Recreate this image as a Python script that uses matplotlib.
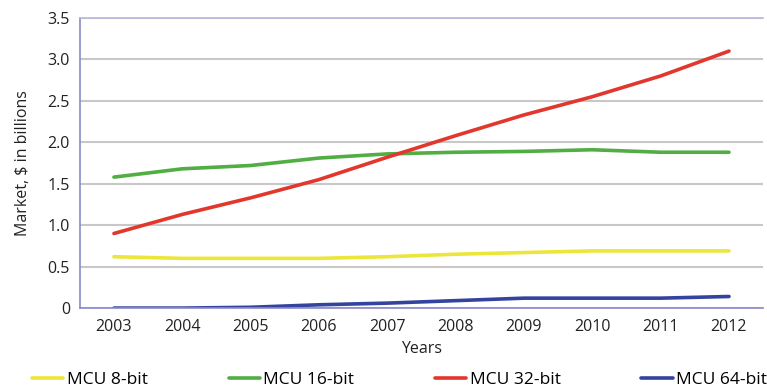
import matplotlib.pyplot as plt

plt.rcParams['font.family'] = ['Open Sans', 'DejaVu Sans']

years = [2003, 2004, 2005, 2006, 2007, 2008, 2009, 2010, 2011, 2012]
mcu8 = [0.62, 0.60, 0.60, 0.60, 0.62, 0.65, 0.67, 0.69, 0.69, 0.69]
mcu16 = [1.58, 1.68, 1.72, 1.81, 1.86, 1.88, 1.89, 1.91, 1.88, 1.88]
mcu32 = [0.90, 1.13, 1.33, 1.55, 1.82, 2.08, 2.33, 2.55, 2.80, 3.10]
mcu64 = [0.00, 0.00, 0.01, 0.04, 0.06, 0.09, 0.12, 0.12, 0.12, 0.14]

labels = ['MCU 8-bit', 'MCU 16-bit', 'MCU 32-bit', 'MCU 64-bit']
colors = ['#ede63a', '#52ad45', '#e2372c', '#34449e']
yticks = [0, 0.5, 1.0, 1.5, 2.0, 2.5, 3.0, 3.5]
ytick_labels = ['0', '0.5', '1.0', '1.5', '2.0', '2.5', '3.0', '3.5']

fig = plt.figure(figsize=(7.67, 3.9), dpi=100)
ax = fig.add_axes([0.104, 0.21, 0.891, 0.744])

for vals, lab, c in zip([mcu8, mcu16, mcu32, mcu64], labels, colors):
    ax.plot(years, vals, color=c, lw=2.6, label=lab, solid_capstyle='round')

ax.set_xlim(2002.5, 2012.5)
ax.set_ylim(0, 3.5)
ax.set_xticks(years)
ax.set_yticks(yticks)
ax.set_yticklabels(ytick_labels)
ax.tick_params(length=0, labelsize=11.5, colors='#222222', pad=7)
ax.tick_params(axis='x', pad=8)
ax.grid(axis='y', color='#c8c8c8', lw=1.5)
ax.set_axisbelow(True)
for s in ['left', 'bottom', 'top']:
    ax.spines[s].set_color('#8a8ac8')
    ax.spines[s].set_linewidth(1.2)
ax.spines['top'].set_color('#b8b8e0')
ax.spines['right'].set_visible(False)

ax.set_xlabel('Years', fontsize=11.5, color='#222222', labelpad=4)
ax.set_ylabel('Market, $ in billions', fontsize=11.5, color='#222222', labelpad=12)

handles, labs = ax.get_legend_handles_labels()
fig.legend(handles, labs, loc='lower left', ncol=4, mode='expand',
           bbox_to_anchor=(0.042, 0.004, 0.958, 0.05), frameon=False,
           fontsize=12.5, handlelength=1.8, handletextpad=0.2,
           borderaxespad=0.0, borderpad=0.0)

fig.savefig('out.png', dpi=100, facecolor='white')
